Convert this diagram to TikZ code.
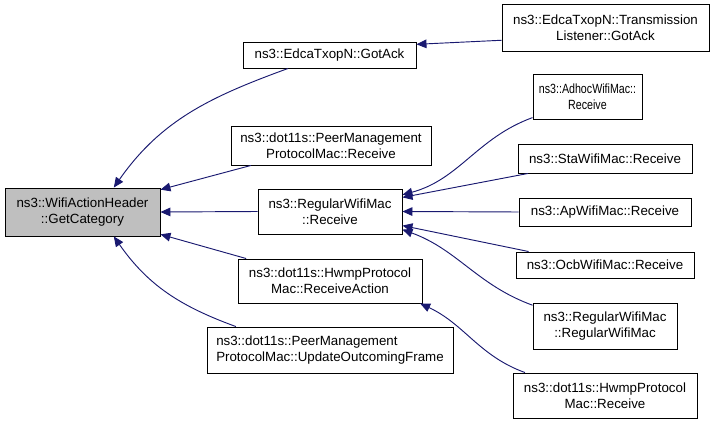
\documentclass[tikz,border=0pt]{standalone}
\usepackage{fontspec}
\setmainfont{Liberation Sans}
\usetikzlibrary{arrows.meta}
\definecolor{edgeblue}{HTML}{191970}
\definecolor{rootgray}{HTML}{BFBFBF}
\newcommand{\squeezed}[1]{\scalebox{0.8}[1]{#1}}

\begin{document}
\begin{tikzpicture}[x=0.75pt,y=-0.75pt,
 fn/.style={draw=black,line width=0.7pt,inner sep=0pt,align=center,font=\fontsize{10}{12}\selectfont},
 call/.style={draw=edgeblue,line width=0.7pt,-{Triangle[length=7.5pt,width=6.5pt]}}]
 \useasboundingbox (0,0) rectangle (715,424);
 \node[fn,fill=rootgray,minimum width=116.25pt,minimum height=36pt] (getcat) at (82.5,212) {ns3::WifiActionHeader\\::GetCategory};
 \node[fn,minimum width=129.75pt,minimum height=19.5pt] (gotack) at (329.5,55) {ns3::EdcaTxopN::GotAck};
 \node[fn,minimum width=150pt,minimum height=29.25pt] (pmpreceive) at (331,145.5) {ns3::dot11s::PeerManagement\\ProtocolMac::Receive};
 \node[fn,minimum width=108pt,minimum height=33.75pt] (rwmreceive) at (330,211.5) {ns3::RegularWifiMac\\::Receive};
 \node[fn,minimum width=138pt,minimum height=33pt] (hwmpaction) at (330,281) {ns3::dot11s::HwmpProtocol\\Mac::ReceiveAction};
 \node[fn,align=left,minimum width=184.5pt,minimum height=34.5pt] (pmpupdate) at (330,350) {ns3::dot11s::PeerManagement\\ProtocolMac::UpdateOutcomingFrame};
 \node[fn,minimum width=155.25pt,minimum height=35.25pt] (txlistener) at (605.5,27.5) {ns3::EdcaTxopN::Transmission\\Listener::GotAck};
 \node[fn,minimum width=81.75pt,minimum height=33.75pt] (adhoc) at (587.5,96.5) {\squeezed{ns3::AdhocWifiMac::}\\\squeezed{Receive}};
 \node[fn,minimum width=130.5pt,minimum height=21.75pt] (sta) at (605,158.5) {ns3::StaWifiMac::Receive};
 \node[fn,minimum width=129pt,minimum height=21pt] (ap) at (605,212) {ns3::ApWifiMac::Receive};
 \node[fn,minimum width=133.5pt,minimum height=19.5pt] (ocb) at (605,265) {ns3::OcbWifiMac::Receive};
 \node[fn,minimum width=108pt,minimum height=34.5pt] (rwmctor) at (605,326) {ns3::RegularWifiMac\\::RegularWifiMac};
 \node[fn,minimum width=138pt,minimum height=33.75pt] (hwmpreceive) at (605,395.5) {ns3::dot11s::HwmpProtocol\\Mac::Receive};

 \draw[call] (gotack.198) to[out=200,in=55] (getcat.38);
 \draw[call] (pmpreceive.194) -- (getcat.16);
 \draw[call] (rwmreceive.west) -- (getcat.east);
 \draw[call] (hwmpaction.165) -- (getcat.-16);
 \draw[call] (pmpupdate.166) to[out=160,in=-55] (getcat.-38);
 \draw[call] (txlistener.187) -- (gotack.7);
 \draw[call] (adhoc.201) to[out=200,in=15] (rwmreceive.13);
 \draw[call] (sta.191) -- (rwmreceive.11);
 \draw[call] (ap.west) -- (rwmreceive.east);
 \draw[call] (ocb.170) -- (rwmreceive.-11);
 \draw[call] (rwmctor.164) to[out=160,in=-20] (rwmreceive.-14);
 \draw[call] (hwmpreceive.164) to[out=160,in=-25] (hwmpaction.-14);
\end{tikzpicture}
\end{document}
